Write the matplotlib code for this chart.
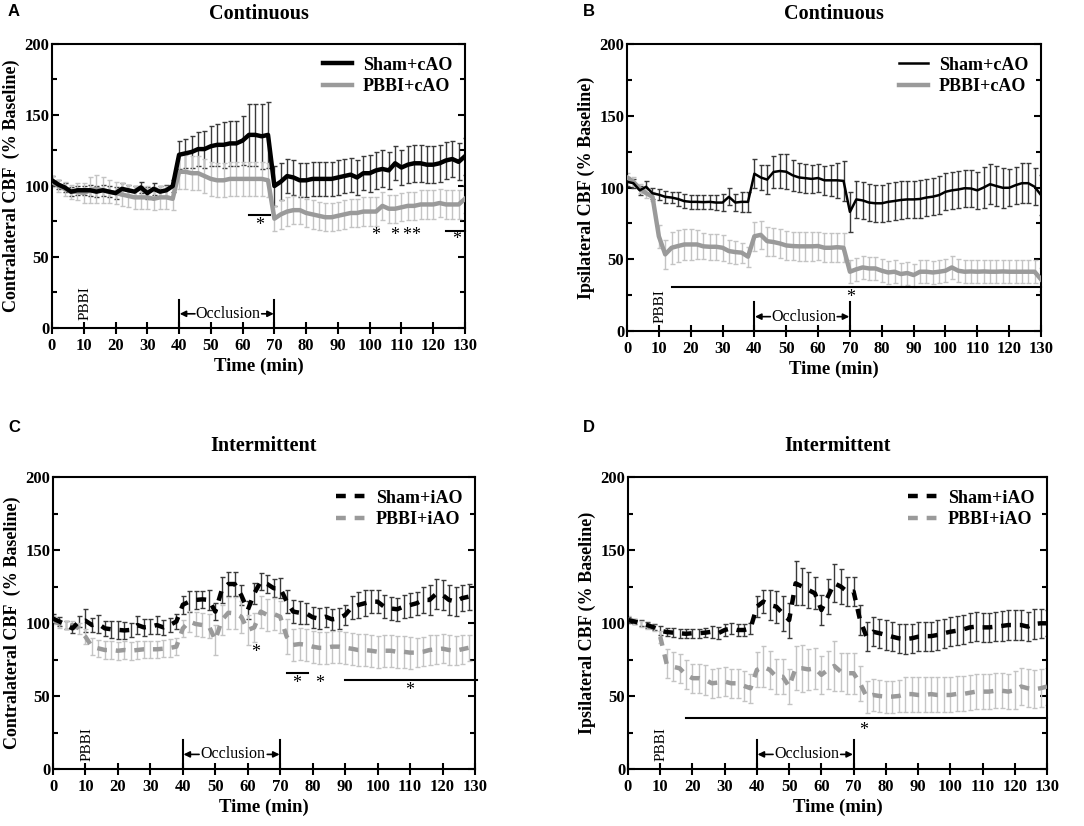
import matplotlib
matplotlib.use("Agg")
import matplotlib.pyplot as plt
import numpy as np

# ---------------- data ----------------
t_full = list(range(0, 131, 2))      # 66 points
t_c = list(range(0, 129, 2))         # 65 points (panel C)

# Panel A (continuous, contralateral)
a_sham = [104, 101, 99, 96, 97, 97, 97, 96, 97, 96, 95, 98, 97, 96, 99, 95, 98, 96, 97, 100,
          122, 123, 124, 126, 126, 128, 129, 129, 130, 130, 132, 136, 136, 135, 136,
          100, 103, 107, 106, 104, 104, 105, 105, 105, 105, 106, 107, 108, 106, 109, 109,
          111, 112, 111, 116, 113, 115, 116, 116, 115, 115, 116, 118, 119, 117, 121]
a_sham_err = [3, 3, 3, 3, 3, 3, 4, 4, 4, 4, 4, 4, 4, 4, 4, 4, 4, 4, 4, 4,
              10, 10, 11, 12, 13, 14, 15, 16, 16, 16, 17, 22, 22, 23, 23,
              14, 13, 12, 12, 12, 12, 12, 12, 12, 12, 12, 12, 12, 12, 12, 13,
              13, 13, 13, 12, 12, 13, 13, 13, 13, 13, 13, 13, 13, 13, 13]
a_pbbi = [103, 100, 98, 96, 96, 95, 97, 98, 97, 96, 95, 94, 93, 92, 92, 92, 91, 92, 92, 91,
          110, 110, 109, 109, 107, 105, 104, 104, 105, 105, 105, 105, 105, 105, 104,
          77, 80, 82, 83, 83, 81, 80, 79, 78, 78, 79, 80, 81, 81, 82, 82,
          82, 86, 84, 84, 85, 86, 86, 87, 87, 87, 88, 87, 87, 87, 91]
a_pbbi_err = [4, 4, 5, 5, 6, 7, 9, 10, 9, 8, 8, 8, 8, 8, 8, 8, 8, 8, 8, 8,
              12, 12, 12, 12, 12, 12, 12, 12, 12, 12, 12, 12, 12, 12, 12,
              9, 10, 10, 10, 10, 10, 10, 10, 10, 10, 10, 10, 10, 10, 10, 10,
              10, 10, 10, 10, 10, 10, 10, 10, 10, 10, 10, 10, 10, 10, 10]

# Panel B (continuous, ipsilateral)
b_sham = [104, 103, 98, 100.5, 96, 95, 93.5, 93, 92, 90.5, 90, 90, 89.8, 90, 89.5, 89.5, 93.5, 89.5, 90, 90,
          109.6, 107, 105.5, 110.8, 111.5, 111, 108.5, 107, 106.5, 106, 106.6, 105, 105, 105, 104.6,
          83, 91.7, 91, 89.5, 89, 89, 90, 90.6, 91.3, 91.7, 91.7, 92, 93, 93.6, 94.7, 97,
          98, 98.6, 99.5, 99.3, 98, 100, 102.3, 101, 99.8, 99.8, 101.6, 103, 103, 100.5, 94.7]
b_sham_err = [3, 3, 3, 4, 4, 4, 4, 4, 5, 5, 5, 5, 5, 5, 5, 6, 6, 6, 7, 7,
              10, 9, 10, 11, 12, 12, 11, 10, 10, 10, 10, 10, 11, 12, 14,
              14, 13, 13, 13, 13, 13, 13, 13, 13, 13, 13, 13, 13, 13, 13, 13,
              13, 13, 13, 13, 13, 14, 14, 14, 14, 13, 13, 14, 14, 13, 14]
b_pbbi = [107, 104, 99.3, 96, 93.6, 66, 53.4, 58, 59.2, 60.3, 60.3, 60.3, 59, 58.7, 58.7, 58, 55.7, 55, 54.6, 51.8,
          66, 67, 62.6, 62, 61, 59.6, 59.2, 59, 59, 59, 59.2, 58, 58, 58.4, 58,
          41.3, 43, 44.3, 43.6, 43.6, 42, 40.8, 41.3, 39.7, 40.4, 39, 41.3, 41.3, 40.8, 41.3, 42,
          44.3, 42, 41.3, 41.5, 41.3, 41.5, 41.3, 41.3, 41.5, 41.3, 41.3, 41.3, 41.3, 41.3, 36]
b_pbbi_err = [3, 3, 3, 3, 3, 8, 10, 11, 11, 11, 11, 10, 9, 9, 9, 9, 8, 8, 7, 7,
              10, 10, 10, 10, 10, 10, 10, 10, 10, 10, 10, 10, 10, 10, 10,
              8, 8, 8, 8, 8, 8, 8, 8, 8, 8, 8, 8, 8, 8, 8, 8,
              8, 8, 8, 8, 8, 8, 8, 8, 8, 8, 8, 8, 8, 8, 8]

# Panel C (intermittent, contralateral)
c_sham = [103, 101, 98.6, 96.3, 101, 101.6, 98.6, 99.3, 96.3, 95.7, 95.3, 94.9, 95.3, 98.6, 97, 97.5, 98.6, 97, 98.6, 101,
          112.5, 114.7, 115.8, 116.2, 115.8, 107.8, 122.6, 126.7, 126.7, 119, 108.9, 120.3, 128.3, 126.7, 123.8, 123.8,
          114.7, 107.8, 107, 106.6, 103.9, 103, 104.3, 102.5, 103.2, 105.5, 110.7, 112.3, 113.5, 114.6, 114.6,
          111.2, 110, 109.4, 111.2, 112.3, 113.5, 115.8, 115.8, 119.9, 119.2, 115.8, 114.7, 117, 118]
c_sham_err = [3, 3, 3, 3, 4, 8, 5, 6, 5, 6, 6, 6, 5, 6, 6, 5, 6, 5, 5, 5,
              6, 7, 6, 6, 7, 6, 9, 8, 8, 7, 6, 7, 6, 6, 6, 7,
              8, 8, 8, 7, 7, 7, 7, 7, 7, 7, 8, 9, 9, 8, 8,
              8, 8, 8, 8, 8, 8, 9, 10, 10, 10, 10, 10, 9, 9]
c_pbbi = [102, 99.3, 98.6, 98.6, 96.3, 90.6, 83.8, 82.6, 81.5, 81.5, 81, 81.5, 81, 81.5, 82, 82, 82, 82.4, 82.9, 83.8,
          96.3, 101, 99.3, 98.6, 98, 88.3, 102, 107, 106.6, 104.3, 95.2, 97, 107.8, 105.5, 106.2, 104.3,
          90.6, 85, 85.6, 85, 83.8, 83, 83, 83.8, 83.8, 83, 82.4, 81.5, 81.5, 81, 80.3,
          81, 81, 80.3, 80.3, 79.7, 79.7, 80.3, 81.5, 82, 82.4, 81.5, 81, 82, 83]
c_pbbi_err = [3, 3, 3, 3, 4, 5, 6, 6, 6, 6, 6, 6, 6, 6, 6, 6, 6, 6, 6, 6,
              6, 7, 8, 8, 8, 10, 10, 11, 11, 11, 10, 10, 11, 11, 11, 11,
              12, 11, 11, 11, 11, 11, 11, 11, 11, 11, 11, 11, 11, 11, 11,
              11, 11, 11, 11, 11, 10, 10, 10, 10, 10, 10, 10, 10, 9]

# Panel D (intermittent, ipsilateral)
d_sham = [102, 101, 99.8, 98.6, 97, 94.7, 93.8, 93.4, 93, 92.6, 93, 93, 93.4, 94, 93, 95.2, 96.3, 95.2, 95.2, 96.3,
          111.2, 114.7, 112.3, 111.2, 106.6, 102, 127.2, 125, 122.6, 120.3, 108.9, 118, 127.2, 125, 121.5,
          121.5, 102, 90.6, 94, 93, 91.8, 90.6, 89.5, 89, 89.5, 90.6, 91, 91, 91.8, 93, 94,
          94.7, 95.6, 97, 97.5, 97, 97, 97.5, 98, 98.6, 98.6, 98.6, 97.5, 99.3, 99.8, 99.8]
d_sham_err = [2, 2, 2, 2, 2, 3, 3, 3, 3, 3, 3, 3, 3, 4, 4, 4, 4, 4, 4, 4,
              7, 8, 10, 11, 12, 12, 15, 13, 12, 11, 10, 12, 13, 12, 10,
              10, 10, 10, 10, 10, 10, 10, 10, 10, 10, 10, 10, 10, 10, 10, 10,
              10, 10, 10, 10, 10, 10, 10, 10, 10, 10, 10, 10, 10, 10, 9]
d_pbbi = [102.5, 101, 99.3, 98, 96.3, 90.6, 72, 70, 69, 64.5, 62.2, 62.2, 61, 58.7, 59.2, 59.9, 58.7, 58.7, 56.9, 55.3,
          67.9, 70, 67.9, 63.2, 63.2, 56.5, 69, 69, 68.2, 69, 64.5, 67.9, 70.6, 66.7, 65.6,
          65.6, 58.7, 49.6, 50.7, 50, 49.6, 49.6, 50, 51.3, 51.3, 50.7, 50.7, 51.3, 50.7, 50.7, 50.7,
          51.4, 51.4, 52.2, 53, 53, 53, 53.6, 53.6, 53, 54, 56.5, 55.3, 54.6, 55.3, 56.5]
d_pbbi_err = [2, 2, 2, 2, 2, 4, 10, 10, 10, 10, 10, 10, 10, 10, 10, 10, 10, 10, 10, 10,
              12, 14, 13, 12, 12, 12, 15, 16, 14, 14, 13, 13, 17, 13, 14,
              14, 12, 11, 11, 11, 11, 11, 11, 12, 12, 12, 12, 12, 12, 12, 12,
              12, 12, 12, 12, 12, 12, 12, 12, 12, 13, 13, 13, 13, 13, 13]

x_ticks = list(range(0, 131, 10))
y_ticks = [0, 50, 100, 150, 200]
y_minor = [25, 75, 125, 175]

# ---------------- style ----------------
SERIF = ['Liberation Serif', 'DejaVu Serif']
SANS = ['Liberation Sans', 'DejaVu Sans']
plt.rcParams['font.family'] = SERIF
plt.rcParams['font.weight'] = 'bold'

BLACK = '#000000'
GREY = '#9a9a9a'
SHAM_ERR = '#3a3a3a'
PBBI_ERR = '#c4c4c4'

fig = plt.figure(figsize=(10.84, 8.26), dpi=100)

W, H = 1084, 826
def ax_at(l, r, t, b):
    return fig.add_axes([l / W, 1 - b / H, (r - l) / W, (b - t) / H])

axA = ax_at(52, 465, 44, 328)
axB = ax_at(627, 1041, 44, 331)
axC = ax_at(53, 475, 477, 769)
axD = ax_at(628, 1047, 477, 769)

def style_axis(ax, ylabel):
    ax.set_xlim(0, 130)
    ax.set_ylim(0, 200)
    ax.set_xticks(x_ticks)
    ax.set_yticks(y_ticks)
    ax.set_yticks(y_minor, minor=True)
    ax.tick_params(axis='x', which='major', direction='inout', length=8, width=1.5,
                   pad=3, labelsize=12)
    ax.tick_params(axis='y', which='major', direction='in', length=5, width=1.5,
                   pad=2, labelsize=12, right=True, labelright=False)
    ax.tick_params(axis='y', which='minor', direction='in', length=3.5, width=1.5,
                   right=True)
    for lab in ax.get_xticklabels() + ax.get_yticklabels():
        lab.set_fontweight('bold')
    for s in ax.spines.values():
        s.set_linewidth(1.5)
    ax.set_xlabel('Time (min)', fontsize=13.5, fontweight='bold', labelpad=3)
    ax.set_ylabel(ylabel, fontsize=13, fontweight='bold', labelpad=3)

def annotate_events(ax, occl_top=20):
    ax.text(10.4, 5.5, 'PBBI', rotation=90, ha='center', va='bottom',
            fontsize=11, fontweight='normal')
    ax.plot([40, 40], [0, occl_top], color='black', lw=1.5)
    ax.plot([70, 70], [0, occl_top], color='black', lw=1.5)
    ax.text(55.4, 10, 'Occlusion', ha='center', va='center', fontsize=11.5, fontweight='normal')
    ax.annotate('', xy=(40.2, 10), xytext=(45.0, 10),
                arrowprops=dict(arrowstyle='-|>', color='black', lw=1.2,
                                mutation_scale=9, shrinkA=0, shrinkB=0))
    ax.annotate('', xy=(69.8, 10), xytext=(66.0, 10),
                arrowprops=dict(arrowstyle='-|>', color='black', lw=1.2,
                                mutation_scale=9, shrinkA=0, shrinkB=0))

def draw_series(ax, t, sham, sham_err, pbbi, pbbi_err, sham_lw, pbbi_lw, ls, labels):
    ax.errorbar(t, sham, yerr=sham_err, fmt='none', ecolor=SHAM_ERR, elinewidth=1.0,
                capsize=1.8, capthick=1.0, zorder=2)
    ax.errorbar(t, pbbi, yerr=pbbi_err, fmt='none', ecolor=PBBI_ERR, elinewidth=1.0,
                capsize=1.8, capthick=1.0, zorder=2)
    lp, = ax.plot(t, pbbi, color=GREY, lw=pbbi_lw, linestyle=ls, zorder=3, label=labels[1],
                  solid_joinstyle='round')
    lsh, = ax.plot(t, sham, color=BLACK, lw=sham_lw, linestyle=ls, zorder=4, label=labels[0],
                   solid_joinstyle='round')
    ax.legend(handles=[lsh, lp], loc='upper right', frameon=False,
              prop={'family': SERIF, 'weight': 'bold', 'size': 13},
              handlelength=1.6, handletextpad=0.6, borderaxespad=0.3, labelspacing=0.25)

def star(ax, x, y):
    ax.text(x, y, '*', ha='center', va='center', fontsize=13, fontweight='normal', clip_on=False)

def hline(ax, x0, x1, y):
    ax.plot([x0, x1], [y, y], color='black', lw=1.5, clip_on=False)

DASH = (0, (2.2, 2.0))

# Panel A
draw_series(axA, t_full, a_sham, a_sham_err, a_pbbi, a_pbbi_err, 3.2, 3.2, '-',
            ['Sham+cAO', 'PBBI+cAO'])
style_axis(axA, 'Contralateral CBF  (% Baseline)')
annotate_events(axA)
hline(axA, 62, 68.5, 79.5)
star(axA, 65.5, 72)
for xs in [102, 108, 111.6, 114.4]:
    star(axA, xs, 65)
hline(axA, 124, 130, 68.5)
star(axA, 127.5, 62)
axA.set_title('Continuous', fontsize=14.5, fontweight='bold', pad=18)

# Panel B
draw_series(axB, t_full, b_sham, b_sham_err, b_pbbi, b_pbbi_err, 1.8, 3.2, '-',
            ['Sham+cAO', 'PBBI+cAO'])
style_axis(axB, 'Ipsilateral CBF (% Baseline)')
annotate_events(axB)
hline(axB, 14, 130, 30.5)
star(axB, 70.2, 23.5)
axB.set_title('Continuous', fontsize=14.5, fontweight='bold', pad=18)

# Panel C
draw_series(axC, t_c, c_sham, c_sham_err, c_pbbi, c_pbbi_err, 3.2, 3.2, DASH,
            ['Sham+iAO', 'PBBI+iAO'])
style_axis(axC, 'Contralateral CBF  (% Baseline)')
annotate_events(axC)
star(axC, 62.5, 79.5)
hline(axC, 72, 78.5, 65.6)
star(axC, 75, 58.5)
star(axC, 82, 58.5)
hline(axC, 90, 130.5, 61)
star(axC, 110, 54)
axC.set_title('Intermittent', fontsize=14.5, fontweight='bold', pad=19)

# Panel D
draw_series(axD, t_full, d_sham, d_sham_err, d_pbbi, d_pbbi_err, 3.2, 3.2, DASH,
            ['Sham+iAO', 'PBBI+iAO'])
style_axis(axD, 'Ipsilateral CBF (% Baseline)')
annotate_events(axD)
hline(axD, 18, 130, 35)
star(axD, 73, 26.5)
axD.set_title('Intermittent', fontsize=14.5, fontweight='bold', pad=19)

# panel letters
for letter, (px, py) in zip('ABCD', [(8, 12), (583, 12), (8, 428), (583, 428)]):
    fig.text(px / W, 1 - py / H, letter, fontsize=12, fontweight='bold',
             family=SANS, ha='left', va='center')

fig.savefig('out.png', dpi=100)
